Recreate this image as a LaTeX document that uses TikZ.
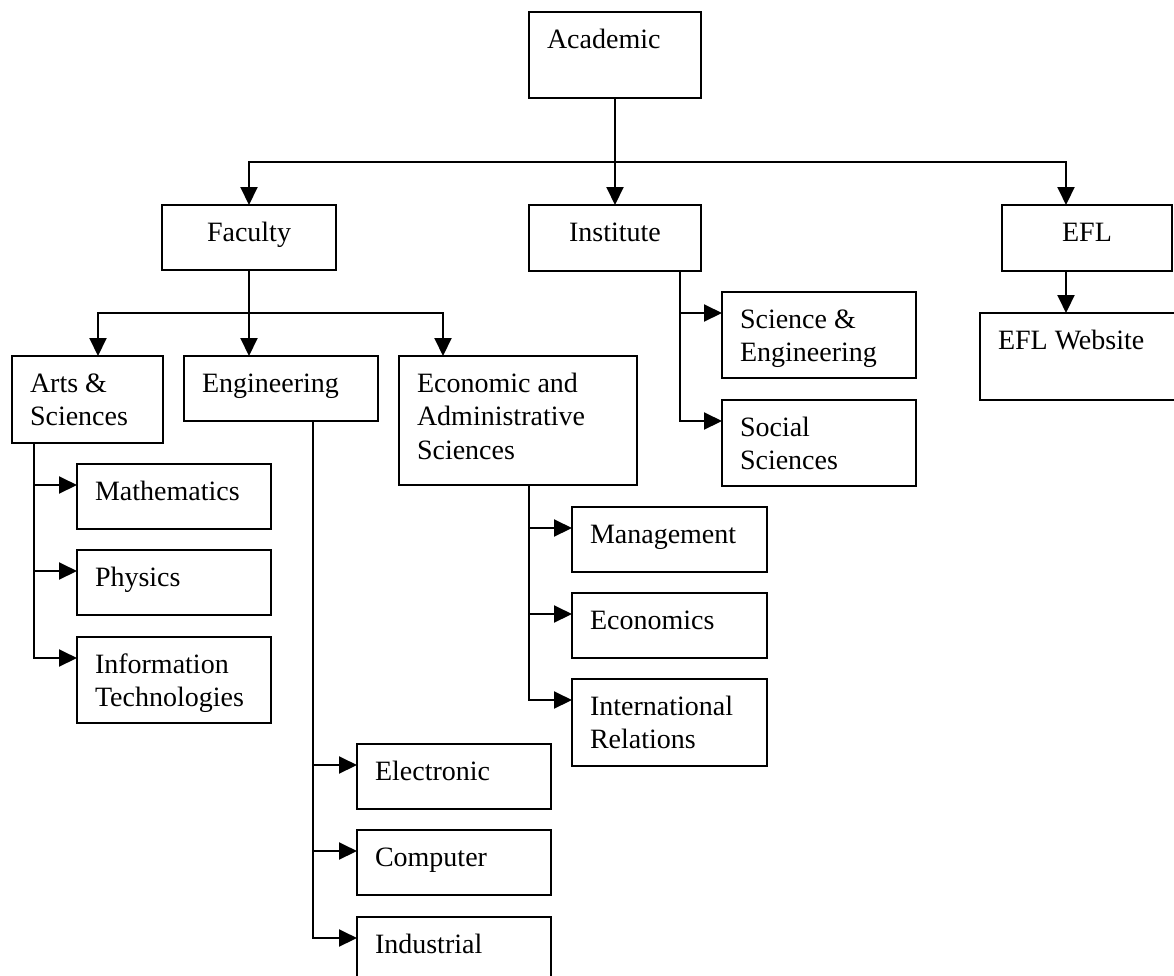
\documentclass[tikz,border=0pt]{standalone}
\usepackage{fontspec}
\setmainfont{Liberation Serif}
\usetikzlibrary{arrows.meta}
\tikzset{
  bx/.style={draw, line width=2pt, anchor=north west, inner xsep=18pt, inner ysep=13.2pt,
    outer sep=0pt, font=\fontsize{28pt}{33.3pt}\selectfont},
  arr/.style={line width=2pt, -{Triangle[length=18pt,width=17pt]}}
}
\newcommand\obox[7]{\node[bx] (#1) at (#2,#3)
  {\parbox[t][\dimexpr#5pt-26.4pt\relax][t]{\dimexpr#4pt-36pt\relax}{#6\strut#7\strut}};}
\begin{document}
\begin{tikzpicture}[x=1pt,y=-1pt]
\useasboundingbox (0,0) rectangle (1174,975);
\fill[white] (0,0) rectangle (1174,975);
\clip (0,0) rectangle (1174,975);

\obox{academic}{529}{12}{172}{86}{\raggedright}{Academic}
\obox{faculty}{162}{205}{174}{65}{\centering}{Faculty}
\obox{institute}{529}{205}{172}{66}{\centering}{Institute}
\obox{efl}{1002}{205}{170}{66}{\centering}{EFL}
\obox{eflweb}{980}{313}{215}{87}{\raggedright}{EFL Website}
\obox{arts}{12}{356}{151}{87}{\raggedright}{Arts \&\\Sciences}
\obox{eng}{184}{356}{194}{65}{\raggedright}{Engineering}
\obox{econ}{399}{356}{238}{129}{\raggedright}{Economic and\\Administrative\\Sciences}
\obox{scieng}{722}{292}{194}{86}{\raggedright}{Science \&\\Engineering}
\obox{social}{722}{400}{194}{86}{\raggedright}{Social\\Sciences}
\obox{math}{77}{464}{194}{65}{\raggedright}{Mathematics}
\obox{phys}{77}{550}{194}{65}{\raggedright}{Physics}
\obox{it}{77}{637}{194}{86}{\raggedright}{Information\\Technologies}
\obox{mgmt}{572}{507}{195}{65}{\raggedright}{Management}
\obox{econs}{572}{593}{195}{65}{\raggedright}{Economics}
\obox{ir}{572}{679}{195}{87}{\raggedright}{International\\Relations}
\obox{elec}{357}{744}{194}{65}{\raggedright}{Electronic}
\obox{comp}{357}{830}{194}{65}{\raggedright}{Computer}
\obox{ind}{357}{917}{194}{86}{\raggedright}{Industrial}

% branch points
\coordinate (bus) at (615,162);
\coordinate (facbus) at (249,313);
\coordinate (eflin) at ([xshift=64pt]efl.north west);
\coordinate (artsin) at ([xshift=86pt]arts.north west);
\coordinate (engin) at ([xshift=65pt]eng.north west);
\coordinate (econin) at ([xshift=44pt]econ.north west);
\coordinate (eflout) at ([xshift=64pt]efl.south west);
\coordinate (eflwebin) at ([xshift=86pt]eflweb.north west);
\coordinate (instout) at ([xshift=151pt]institute.south west);
\coordinate (artsout) at ([xshift=22pt]arts.south west);
\coordinate (engout) at ([xshift=129pt]eng.south west);
\coordinate (econout) at ([xshift=130pt]econ.south west);
\coordinate (mathin) at ([yshift=-21pt]math.north west);
\coordinate (physin) at ([yshift=-21pt]phys.north west);
\coordinate (itin) at ([yshift=-21pt]it.north west);
\coordinate (mgmtin) at ([yshift=-21pt]mgmt.north west);
\coordinate (econsin) at ([yshift=-21pt]econs.north west);
\coordinate (irin) at ([yshift=-21pt]ir.north west);
\coordinate (elecin) at ([yshift=-21pt]elec.north west);
\coordinate (compin) at ([yshift=-21pt]comp.north west);
\coordinate (indin) at ([yshift=-21pt]ind.north west);
\coordinate (sciengin) at ([yshift=-21pt]scieng.north west);
\coordinate (socialin) at ([yshift=-21pt]social.north west);

% connectors
\draw[arr] (academic.south) -- (institute.north);
\draw[arr] (bus) -| (faculty.north);
\draw[arr] (bus) -| (eflin);
\draw[arr] (faculty.south) -- (engin);
\draw[arr] (facbus) -| (artsin);
\draw[arr] (facbus) -| (econin);
\draw[arr] (eflout) -- (eflwebin);
\draw[arr] (instout) |- (sciengin);
\draw[arr] (instout) |- (socialin);
\draw[arr] (artsout) |- (mathin);
\draw[arr] (artsout) |- (physin);
\draw[arr] (artsout) |- (itin);
\draw[arr] (engout) |- (elecin);
\draw[arr] (engout) |- (compin);
\draw[arr] (engout) |- (indin);
\draw[arr] (econout) |- (mgmtin);
\draw[arr] (econout) |- (econsin);
\draw[arr] (econout) |- (irin);
\end{tikzpicture}
\end{document}
